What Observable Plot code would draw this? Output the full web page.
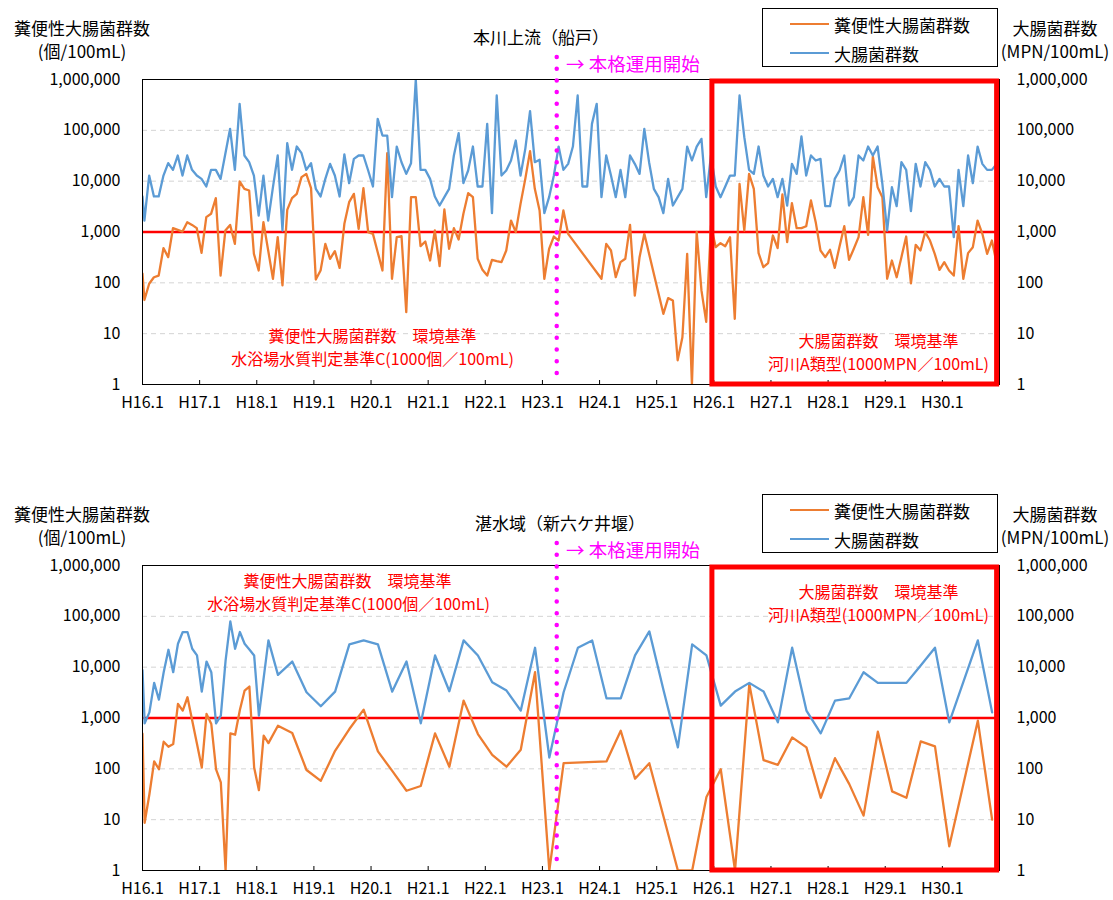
<!DOCTYPE html>
<html lang="ja"><head><meta charset="utf-8">
<script src="https://cdn.jsdelivr.net/npm/d3@7"></script>
<script src="https://cdn.jsdelivr.net/npm/@observablehq/plot@0.6"></script>
<style>
html,body{margin:0;padding:0;background:#fff;}
body{font-family:"Noto Sans CJK JP","Noto Sans",sans-serif;color:#000;}
#root{position:relative;width:1113px;height:900px;overflow:hidden;}
.panel{position:absolute;left:0;width:1113px;height:420px;}
.panel svg{position:absolute;left:0;top:0;}
.t{position:absolute;white-space:nowrap;line-height:1;font-size:17px;transform:translateY(-50%);}
.c{transform:translate(-50%,-50%);}
.legend{position:absolute;left:762px;top:8px;width:234px;height:57px;border:1px solid #000;background:#fff;}
.sw{position:absolute;height:2.5px;width:39px;left:27px;}
.lt{position:absolute;left:71px;white-space:nowrap;line-height:1;font-size:17px;transform:translateY(-50%);}
</style></head><body><div id="root"></div>
<script>
// ---------- data ----------
const yearLabels = ["H16.1","H17.1","H18.1","H19.1","H20.1","H21.1","H22.1","H23.1","H24.1","H25.1","H26.1","H27.1","H28.1","H29.1","H30.1"];
const yearTickMonths = [0,12,24,36,48,60,72,84,96,108,120,132,144,156,168];
const yTicks = [1,10,100,1000,10000,100000,1000000];
const gridLevels = [10,100,10000,100000];
const standardValue = 1000;
const operationStartMonth = 87;        // H23.4
const standardBox = {from: 119.7, to: 179.5}; // H26 onward

const seriesNames = ["糞便性大腸菌群数","大腸菌群数"];

// 本川上流(船戸): monthly samples, first value is the value at the left edge
const topBlue = [5000,
1680,12900,5000,5000,12900,22600,16700,32000,12900,32000,
16700,12900,11100,7850,16700,16700,11100,34500,107000,16700,
332000,32000,23600,12900,2110,12900,1680,7620,32000,1070,
56000,16700,48000,35500,16700,22600,7070,5000,11100,21900,
12900,5000,33500,9120,27500,32000,32000,16200,7850,168000,
79000,79000,4840,48000,23600,13900,22600,1000000,16700,16700,
11100,5000,3320,4840,7070,32000,88000,9120,16200,48000,
7850,7850,134000,2350,484000,12900,16200,25500,63000,12900,
43200,238000,23600,26300,2350,4840,12900,48000,16700,21900,
48000,484000,7850,7850,134000,332000,4840,32000,12900,4840,
16700,4840,32000,21900,13900,107000,23600,7070,4840,2350,
11100,3320,4840,7070,48000,25500,48000,68000,4840,32000,
7850,4840,7850,12900,12900,484000,73400,16700,13900,48000,
12900,7850,11100,4840,11100,3320,21900,13900,75700,12900,
32000,25500,27500,3220,3220,11100,16200,32000,3320,4840,
32000,25500,48000,32000,48000,8870,1070,7620,3220,23600,
16700,2570,21900,7850,23600,16700,7850,11100,7850,7850,
791,16700,3220,32000,9120,48000,21900,16700,16700,21900];

const topOrange = [152,
46,96,129,139,481,320,1190,1100,1020,1560,
1380,1190,389,1960,2280,4630,139,1070,1380,585,
9850,7070,6550,372,175,1560,433,120,791,89,
2730,4630,5630,12000,13900,7280,116,175,585,297,
420,197,1450,3860,5630,1150,7280,990,920,401,
175,35500,120,791,828,26.5,4840,4840,526,650,
275,1070,213,2770,467,1190,711,2280,5800,4840,
297,180,139,283,267,255,433,1680,997,3580,
11100,38900,7070,2650,120,467,815,680,2650,920,
null,null,null,null,null,null,120,585,433,129,
255,297,1380,56,320,920,null,null,null,24.6,
50,45,3,8.5,372,1,1000,71,17,1340,
503,603,526,791,19.6,8870,1070,13900,7070,384,
203,244,853,481,5470,631,3690,1190,1190,1300,
4170,1560,433,320,446,197,519,1300,283,467,
791,4840,879,30600,7620,4840,120,275,129,320,
815,98,560,433,997,680,372,180,255,175,
139,1300,120,384,503,1680,920,372,680,244];

// 湛水域(新六ケ井堰): sample month index (from H16.1) and values
const bottomBlueMonths = [-0.45,0,1,2,3,4,5,6,7,8,9,10,11,12,13,14,15,16,17,18,19,20,21,22,23,24,26,28,
31,34,37,40,43,46,49,52,55,58,61,64,67,70,73,76,79,82,85,88,91,94,97,100,103,106,109,112,115,118,
121,124,127,130,133,136,139,142,145,148,151,154,157,160,163,166,169,175,178];
const bottomBlueValues = [8700,
785,1290,4910,2300,7960,22000,7960,28900,49100,49100,
23000,17000,3310,12900,7960,785,1110,13500,79700,23000,
49100,28900,22300,17000,1110,33600,7060,
12900,3210,1700,3310,28000,33600,28000,3310,12900,785,
17000,3360,33600,17000,5060,3460,1400,24100,167,3210,
24100,33600,2440,2440,17000,50600,3460,264,28000,17000,
1750,3310,4910,3310,821,24100,1400,498,2200,2440,
7960,4910,4910,4910,10800,24100,821,33600,1290];

const bottomOrangeMonths = [-0.45,0,1,2,3,4,5,6,7,8,9,10,11,12,13,14,15,16,17,18,19,20,21,22,23,24,25,26,28,
31,34,37,40,43,46,49,52,55,58,61,64,67,70,73,76,79,82,85,88,97,100,103,106,112,115,118,
121,124,127,130,133,136,139,142,145,148,151,154,157,160,163,166,169,175,178];
const bottomOrangeValues = [490,
8.7,31.6,140,98,341,272,307,1890,1400,2560,
886,307,106,1200,762,98,54,1,498,469,
1440,3460,4150,106,38,448,321,706,
506,95,58,226,607,1460,220,91,37,46,
498,110,2200,483,189,110,237,7960,1,129,
140,562,64,129,1,1,28,
98,1,4690,148,120,415,264,27,162,50,
12,537,36,27,346,276,3,886,10];

// ---------- build ----------
const ORANGE = "#ed7d31", BLUE = "#5b9bd5", RED = "#ff0000", MAGENTA = "#ff00ff";

const topBlueData = topBlue.map((v,i)=>({month: i===0 ? 0 : i-0.6, value: v}));
const topOrangeData = topOrange.map((v,i)=>({month: i===0 ? 0 : i-0.6, value: v})).filter(d=>d.value!=null);
const botBlueData = bottomBlueMonths.map((m,i)=>({month: m+0.45, value: bottomBlueValues[i]}));
const botOrangeData = bottomOrangeMonths.map((m,i)=>({month: m+0.45, value: bottomOrangeValues[i]}));

function chartWithNotes(blueData, orangeData, notes) {
  const fmt = d3.format(",");
  return Plot.plot({
    width: 1113, height: 420,
    marginLeft: 142, marginRight: 114, marginTop: 79, marginBottom: 36,
    x: {domain: [0, 180], label: null},
    y: {type: "log", domain: [1, 1e6], label: null},
    style: {fontFamily: '"Noto Sans CJK JP", sans-serif', fontSize: "16px", color: "#000", background: "transparent", overflow: "visible"},
    marks: [
      Plot.ruleY(gridLevels, {stroke: "#d4d4d4", strokeDasharray: "5,4", strokeWidth: 1}),
      Plot.ruleY([standardValue], {stroke: RED, strokeWidth: 2.5}),
      Plot.line(orangeData, {x: "month", y: "value", stroke: ORANGE, strokeWidth: 2.3, clip: true}),
      Plot.line(blueData, {x: "month", y: "value", stroke: BLUE, strokeWidth: 2.3, clip: true}),
      Plot.frame({stroke: "#000", strokeWidth: 1}),
      Plot.ruleX(yearTickMonths.slice(1), {stroke: "#000", strokeWidth: 1, insetTop: 301}),
      Plot.ruleX([operationStartMonth], {stroke: MAGENTA, strokeWidth: 4.5, strokeDasharray: "0,11.7", strokeLinecap: "round", insetTop: -22, insetBottom: 3}),
      Plot.rect([standardBox], {x1: "from", x2: "to", stroke: RED, strokeWidth: 5, fill: "none", insetTop: 2}),
      Plot.axisX({ticks: yearTickMonths, tickFormat: d => yearLabels[yearTickMonths.indexOf(d)], tickSize: 0, tickPadding: 12, fontSize: 16, label: null}),
      Plot.axisY({anchor: "left", ticks: yTicks, tickFormat: fmt, tickSize: 0, tickPadding: 22, fontSize: 16, label: null}),
      Plot.axisY({anchor: "right", ticks: yTicks, tickFormat: fmt, tickSize: 0, tickPadding: 17, fontSize: 16, label: null}),
      ...notes.map(n => Plot.text([n.text], {frameAnchor: "top-left", dx: n.dx, dy: n.dy, text: d => d, fill: RED, fontSize: 16, textAnchor: "middle"}))
    ]
  });
}

function panel(top, title, titleX, blueData, orangeData, notes) {
  const div = document.createElement("div");
  div.className = "panel";
  div.style.top = top + "px";
  div.appendChild(chartWithNotes(blueData, orangeData, notes));
  const add = (txt, x, y, cls, color, size) => {
    const s = document.createElement("div");
    s.className = "t" + (cls ? " " + cls : "");
    s.textContent = txt;
    s.style.left = x + "px"; s.style.top = y + "px";
    if (color) s.style.color = color;
    if (size) s.style.fontSize = size + "px";
    div.appendChild(s);
  };
  add("糞便性大腸菌群数", 82, 27, "c");
  add("(個/100mL)", 82, 50, "c");
  add("大腸菌群数", 1055, 27, "c");
  add("(MPN/100mL)", 1055, 50, "c");
  add(title, titleX, 36, "c");
  add("→ 本格運用開始", 566, 63, "", MAGENTA, 18.5);
  const lg = document.createElement("div");
  lg.className = "legend";
  lg.innerHTML = `<div class="sw" style="top:13.5px;background:${ORANGE}"></div><div class="lt" style="top:14.5px">${seriesNames[0]}</div>
  <div class="sw" style="top:42.5px;background:${BLUE}"></div><div class="lt" style="top:43.5px">${seriesNames[1]}</div>`;
  div.appendChild(lg);
  document.getElementById("root").appendChild(div);
}

const topNotes = [
  {text: "糞便性大腸菌群数　環境基準", dx: 230, dy: 251},
  {text: "水浴場水質判定基準C(1000個／100mL)", dx: 230, dy: 274},
  {text: "大腸菌群数　環境基準", dx: 736, dy: 256},
  {text: "河川A類型(1000MPN／100mL)", dx: 736, dy: 279}
];
const bottomNotes = [
  {text: "糞便性大腸菌群数　環境基準", dx: 205, dy: 10},
  {text: "水浴場水質判定基準C(1000個／100mL)", dx: 206, dy: 33},
  {text: "大腸菌群数　環境基準", dx: 736, dy: 21},
  {text: "河川A類型(1000MPN／100mL)", dx: 736, dy: 44}
];

panel(0, "本川上流（船戸）", 541, topBlueData, topOrangeData, topNotes);
panel(486, "湛水域（新六ケ井堰）", 560, botBlueData, botOrangeData, bottomNotes);
</script></body></html>
